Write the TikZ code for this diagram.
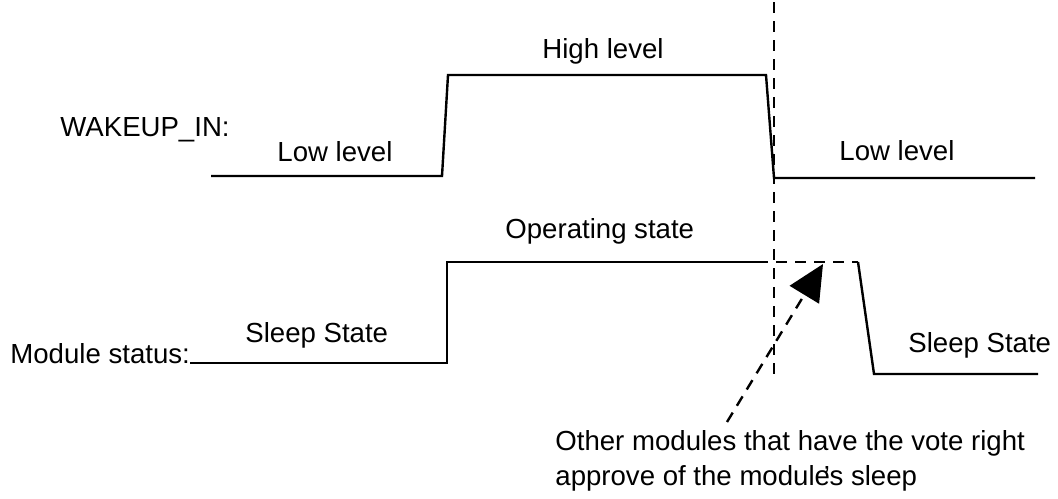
\documentclass[tikz,border=0pt]{standalone}
\usepackage{fontspec}
\setmainfont{Liberation Sans}
\usetikzlibrary{arrows.meta,positioning}

\begin{document}
\begin{tikzpicture}[x=0.5pt,y=-0.5pt,
    signal/.style={line width=1.2pt, line join=miter},
    marker/.style={line width=1.2pt, dash pattern=on 5.5pt off 4pt},
    lbl/.style={inner sep=0pt, anchor=base west, font=\fontsize{13.8}{17.5}\selectfont}]
  \useasboundingbox (0,0) rectangle (1058,498);
  %\draw[help lines] (0,0) grid[step=50] (1058,498);
  % WAKEUP_IN signal
  \node[lbl] (wakeup) at (60,136) {WAKEUP\_IN:};
  \node[lbl] (lowa) at (277,161) {Low level};
  \node[lbl] (high) at (542,58) {High level};
  \node[lbl] (lowb) at (839,160) {Low level};
  \draw[signal] (211,176) coordinate (w_0) -- (442,176) -- (448,75) coordinate (w_up)
        -- (766,75) coordinate (w_down) -- (774,178) -- (1035,178) coordinate (w_end);
  % module status signal
  \node[lbl] (status) at (10,363) {Module status:};
  \node[lbl] (sleepa) at (245,342) {Sleep State};
  \node[lbl] (oper) at (505,238) {Operating state};
  \node[lbl] (sleepb) at (908,352) {Sleep State};
  \draw[signal] (status.base east) -- (447,363) -- (447,262) coordinate (m_up) -- (757,262) coordinate (m_vote);
  \draw[signal, marker] (m_vote) -- (858,262) coordinate (m_down);
  \draw[signal] (m_down) -- (874,374) -- (1038,374) coordinate (m_end);
  % wakeup released
  \draw[marker] (774,2) coordinate (cut_top) -- (774,378) coordinate (cut_bot);
  % vote note
  \node[lbl] (note) at (555,450) {Other modules that have the vote right};
  \node[lbl] (noteb) at ([yshift=-17.5pt]note.base west) {approve of the module\kern-0.22em's sleep};
  \coordinate (votetail) at (727,422);
  \coordinate (votetip) at (823,264);
  \draw[marker, -{Triangle[length=18pt,width=17pt]}] (votetail) -- (votetip);
\end{tikzpicture}
\end{document}
